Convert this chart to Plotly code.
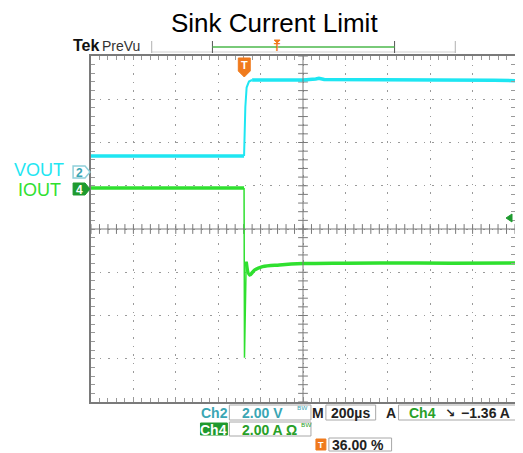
import plotly.graph_objects as go
import numpy as np

# ---------------- data ----------------
# time in microseconds from the left edge of the screen (200 us/div, 10 div)
vout_pre_t = [0, 200, 400, 600, 722]
vout_pre_v = [0.74, 0.74, 0.74, 0.74, 0.74]
vout_rise_t = [722, 728, 734, 745, 760]
vout_rise_v = [0.74, 3.0, 3.9, 4.18, 4.25]
vout_post_t = [760, 900, 1000, 1060, 1075, 1100, 1300, 1500, 1700, 1900, 2000]
vout_post_v = [4.25, 4.25, 4.25, 4.30, 4.33, 4.27, 4.26, 4.29, 4.27, 4.24, 4.22]

iout_pre_t = [0, 200, 400, 600, 722]
iout_pre_a = [0.05, 0.05, 0.05, 0.05, 0.05]
iout_spike_t = [722, 724, 732]
iout_spike_a = [0.05, -7.8, -3.36]
iout_post_t = [732, 748, 771, 809, 889, 1001, 1200, 1452, 1700, 2000]
iout_post_a = [-3.36, -3.98, -3.75, -3.59, -3.51, -3.45, -3.43, -3.42, -3.43, -3.42]

trigger_level_a = -1.36
trigger_time = 722

ch2_scale = 2.0   # V/div
ch4_scale = 2.0   # A/div
ch2_offset = 1.32  # ground marker position, div
ch4_offset = 0.925

def vdiv(v):
    return [ch2_offset + x / ch2_scale for x in v]

def idiv(a):
    return [ch4_offset + x / ch4_scale for x in a]

CYAN = "#1ee6f2"
GREEN = "#2fe02f"
DKGREEN = "#1e9a2e"
TEAL = "#3aa6b4"
ORANGE = "#f07a1c"
GRAY = "#7a7a7a"

# page has an 8px body margin; all pixel positions below are page pixels
OFF = 8
W, H = 523 - OFF, 453 - OFF
L, R, T, B = 91, 517, 56, 402

def px(x):
    return (x - L) / (R - L)

def py(y):
    return (B - y) / (B - T)

fig = go.Figure()

# crosshair ticks (decoration)
xt = np.arange(0, 2000.1, 40)
fig.add_trace(go.Scatter(x=xt, y=[0] * len(xt), mode="markers",
                         marker=dict(symbol="line-ns", size=7, line=dict(color=GRAY, width=1)),
                         hoverinfo="skip", showlegend=False))
yt = np.arange(-4, 4.01, 0.2)
fig.add_trace(go.Scatter(x=[1000] * len(yt), y=yt, mode="markers",
                         marker=dict(symbol="line-ew", size=7, line=dict(color=GRAY, width=1)),
                         hoverinfo="skip", showlegend=False))

# traces
fig.add_trace(go.Scatter(x=vout_pre_t, y=vdiv(vout_pre_v), mode="lines",
                         line=dict(color=CYAN, width=3.5), showlegend=False))
fig.add_trace(go.Scatter(x=vout_rise_t, y=vdiv(vout_rise_v), mode="lines",
                         line=dict(color=CYAN, width=2), showlegend=False))
fig.add_trace(go.Scatter(x=vout_post_t, y=vdiv(vout_post_v), mode="lines",
                         line=dict(color=CYAN, width=3.5), showlegend=False))
fig.add_trace(go.Scatter(x=iout_pre_t, y=idiv(iout_pre_a), mode="lines",
                         line=dict(color=GREEN, width=3.5), showlegend=False))
fig.add_trace(go.Scatter(x=iout_spike_t, y=idiv(iout_spike_a), mode="lines",
                         line=dict(color=GREEN, width=1.5), showlegend=False))
fig.add_trace(go.Scatter(x=iout_post_t, y=idiv(iout_post_a), mode="lines",
                         line=dict(color=GREEN, width=3.5, shape="spline"), showlegend=False))

shapes = []
annos = []

# center crosshair
shapes.append(dict(type="line", xref="x", yref="y", x0=0, x1=2000, y0=0, y1=0,
                   line=dict(color=GRAY, width=1)))
shapes.append(dict(type="line", xref="x", yref="y", x0=1000, x1=1000, y0=-4, y1=4,
                   line=dict(color=GRAY, width=1)))

def poly(pts, fill, line=None, lw=1):
    path = "M " + " L ".join(f"{px(a):.5f},{py(b):.5f}" for a, b in pts) + " Z"
    shapes.append(dict(type="path", xref="paper", yref="paper", path=path,
                       fillcolor=fill, line=dict(color=line or fill, width=lw)))

def rect(x0, y0, x1, y1, fill="rgba(0,0,0,0)", line="#a8a8a8"):
    shapes.append(dict(type="rect", xref="paper", yref="paper",
                       x0=px(x0), x1=px(x1), y0=py(y1), y1=py(y0),
                       fillcolor=fill, line=dict(color=line, width=1)))

def text(x, y, s, size=14, color="#222", xa="left", bold=True, family="Liberation Sans"):
    annos.append(dict(x=px(x), y=py(y), xref="paper", yref="paper", text=(f"<b>{s}</b>" if bold else s),
                      showarrow=False, xanchor=xa, yanchor="middle", borderpad=0,
                      font=dict(family=family, size=size, color=color)))

# channel ground markers
poly([(73, 166), (85, 166), (90, 172), (85, 178), (73, 178)], "#ffffff", line="#8fd0da", lw=1.5)
text(79, 172.5, "2", 12, TEAL, "center")
poly([(73, 183), (85, 183), (90, 189), (85, 195), (73, 195)], DKGREEN)
text(79, 189.5, "4", 12, "#ffffff", "center")

# trigger position marker
poly([(239, 58), (251, 58), (251, 71), (245, 77), (239, 71)], ORANGE)
text(245, 65, "T", 11, "#ffffff", "center")

# trigger level arrow
poly([(508, 218), (514, 214), (514, 222)], DKGREEN)

# top bar
text(72, 46, "Tek", 16, "#111", "left")
text(101, 46, "PreVu", 14, "#333", "left", bold=False)
shapes.append(dict(type="line", xref="paper", yref="paper", x0=px(152), x1=px(457), y0=py(52), y1=py(52),
                   line=dict(color="#d0d0d0", width=1)))
for xv in (152, 457):
    shapes.append(dict(type="line", xref="paper", yref="paper", x0=px(xv), x1=px(xv), y0=py(41), y1=py(53),
                       line=dict(color="#b0b0b0", width=1)))
for xv in (213, 396):
    shapes.append(dict(type="line", xref="paper", yref="paper", x0=px(xv), x1=px(xv), y0=py(41), y1=py(53),
                       line=dict(color="#555", width=1)))
shapes.append(dict(type="line", xref="paper", yref="paper", x0=px(213), x1=px(396), y0=py(47), y1=py(47),
                   line=dict(color="#4cb84c", width=1.5)))
poly([(275, 40), (281, 40), (278, 43)], ORANGE)
text(278, 47.5, "T", 10, ORANGE, "center")

# title and channel labels
annos.append(dict(x=px(275), y=py(23), xref="paper", yref="paper", text="Sink Current Limit",
                  showarrow=False, xanchor="center", yanchor="middle", borderpad=0,
                  font=dict(family="Liberation Sans", size=26, color="#000")))
text(39, 170, "VOUT", 18, CYAN, "center", bold=False)
text(39, 190, "IOUT", 18, GREEN, "center", bold=False)

# readouts
rect(230, 405, 312, 420)
rect(327, 405, 377, 420)
rect(400, 405, 520, 420)
rect(230, 422, 312, 436)
rect(201, 423, 228, 435, fill=DKGREEN, line=DKGREEN)
rect(317, 439, 327, 450, fill=ORANGE, line=ORANGE)
rect(330, 438, 393, 451)

text(215, 412.5, "Ch2", 14, TEAL, "center")
text(242, 412.5, "2.00 V", 14, TEAL)
text(297, 410, "ᴮᵂ", 10, TEAL, bold=False, family="DejaVu Sans")
text(319, 412.5, "M", 14, "#222", "center")
text(331, 412.5, "200µs", 14, "#222")
text(392, 412.5, "A", 14, "#222", "center")
text(409, 412.5, "Ch4", 14, "#28a028")
text(452, 412.5, "↘", 12, "#222", "center", family="DejaVu Sans")
text(462, 412.5, "−1.36 A", 14, "#222")
text(214.5, 429.5, "Ch4", 14, "#ffffff", "center")
text(242, 429.5, "2.00 A Ω", 14, "#28a028")
text(301, 427, "ᴮᵂ", 10, "#28a028", bold=False, family="DejaVu Sans")
text(322, 445, "T", 9, "#ffffff", "center")
text(332, 445, "36.00 %", 14, "#222")

axis_common = dict(showline=True, linecolor=GRAY, linewidth=2, mirror="ticks",
                   ticks="inside", ticklen=4, tickcolor="#999", tickwidth=1,
                   showticklabels=False, zeroline=False, showgrid=True,
                   gridcolor="#9a9a9a", gridwidth=1)

fig.update_layout(
    width=W, height=H,
    margin=dict(l=L - OFF, r=523 - R, t=T - OFF, b=453 - B),
    paper_bgcolor="white", plot_bgcolor="white",
    xaxis=dict(range=[0, 2000], dtick=200, tick0=0, griddash="1.5px,7.02px",
               minor=dict(dtick=40, tick0=0, ticks="inside", ticklen=4, tickcolor="#999", showgrid=False),
               **axis_common),
    yaxis=dict(range=[-4, 4], dtick=1, tick0=0, griddash="1.5px,7.03px",
               minor=dict(dtick=0.2, tick0=0, ticks="inside", ticklen=4, tickcolor="#999", showgrid=False),
               **axis_common),
    shapes=shapes, annotations=annos,
)

fig.write_html("out.html")
